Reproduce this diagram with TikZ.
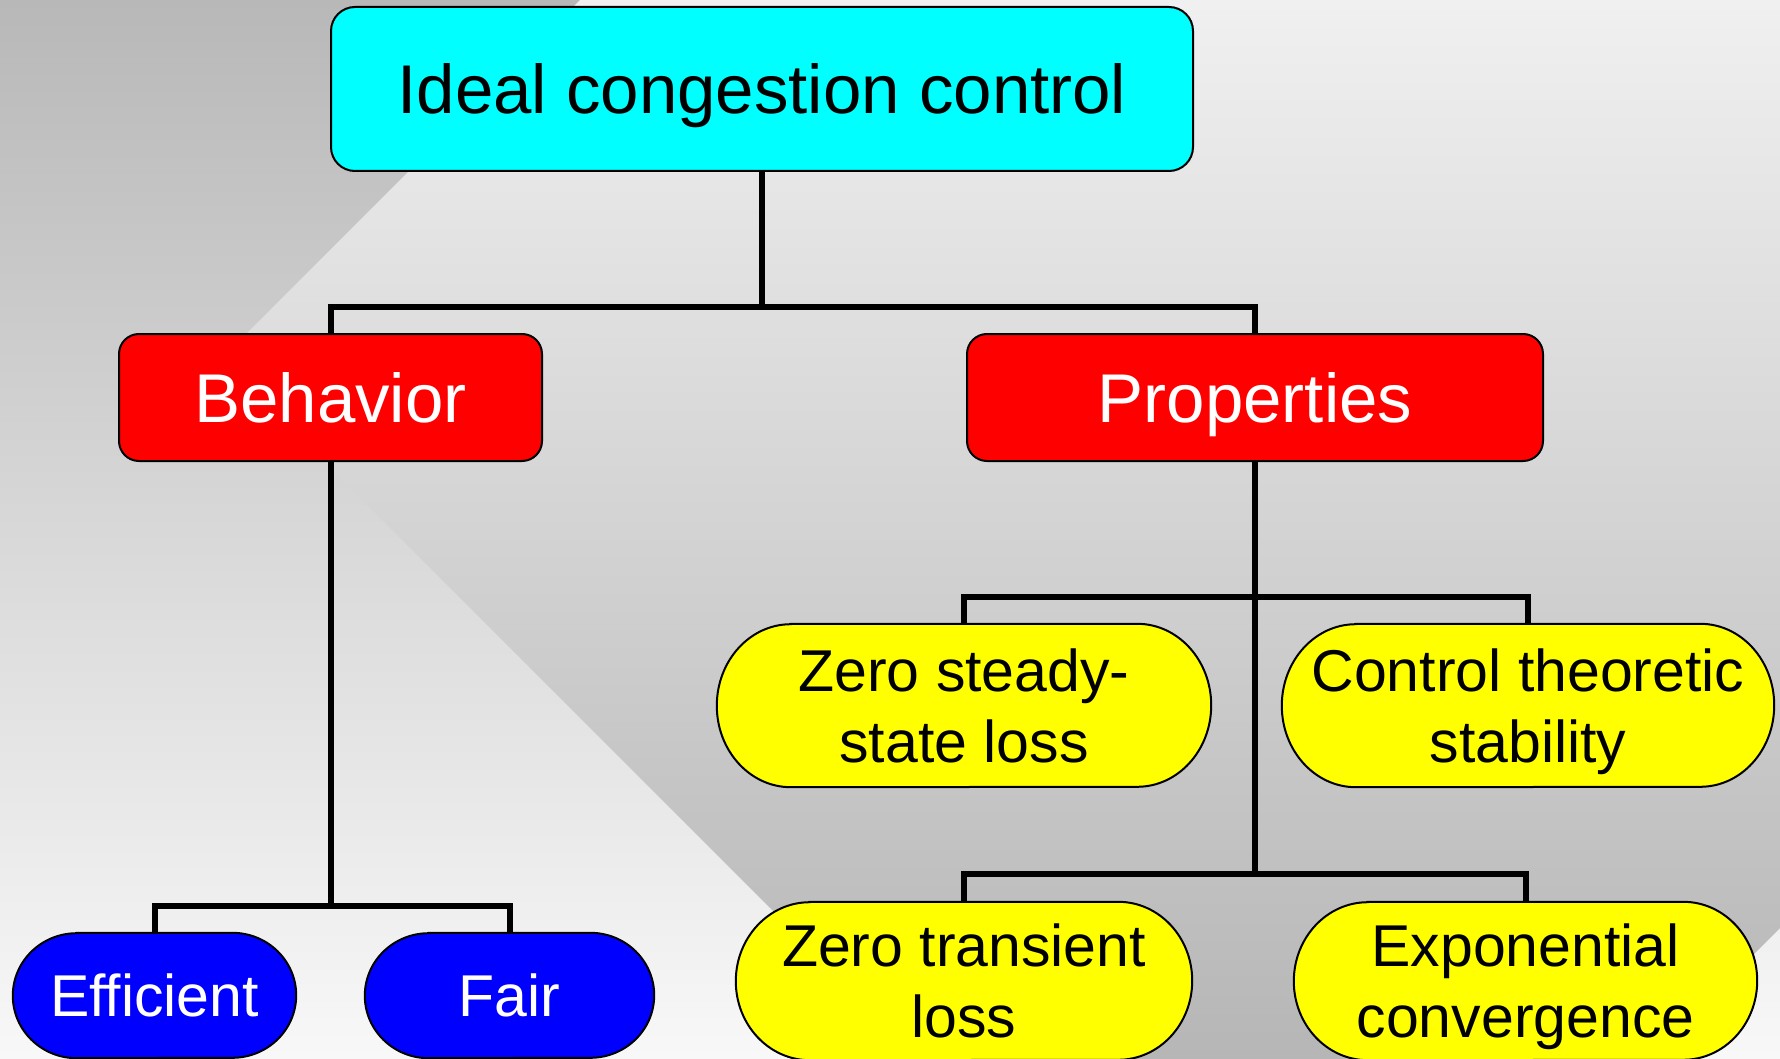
\documentclass[tikz,border=0pt]{standalone}
\usepackage{fontspec}
\setmainfont{Liberation Sans}
\pgfdeclarelayer{back}
\pgfdeclarelayer{pills}
\pgfsetlayers{back,pills,main}
\definecolor{bgdark}{HTML}{B8B8B8}
\definecolor{bglight}{HTML}{F8F8F8}
\definecolor{dmtop}{HTML}{F0F0F0}
\definecolor{dmbot}{HTML}{B6B6B6}
\definecolor{topcyan}{HTML}{00FFFF}
\definecolor{midred}{HTML}{FF0000}
\definecolor{leafblue}{HTML}{0000FF}
\definecolor{leafyellow}{HTML}{FFFF00}
\tikzset{
	headbox/.style={draw=black, line width=2pt, rounded corners=20pt, inner sep=0pt, text depth=0pt, font=\fontsize{69}{83}\selectfont},
	leaf/.style={inner sep=0pt, align=center, text depth=0pt, font=\fontsize{59}{71}\selectfont},
	conn/.style={line width=6pt},
	pilledge/.style={draw=black, line width=2pt}
}
\newcommand{\pillshape}[4]{%
	\begin{pgfonlayer}{pills}
		\draw[pilledge, fill=#2] ([xshift=#3]#1.north west) -- ([xshift=-#3]#1.north east)
			arc[start angle=90, end angle=-90, x radius=#3, y radius=#4]
			-- ([xshift=#3]#1.south west)
			arc[start angle=270, end angle=90, x radius=#3, y radius=#4] -- cycle;
	\end{pgfonlayer}}
\begin{document}
\begin{tikzpicture}[x=1pt, y=1pt, line join=miter]
	\def\W{1780} \def\H{1059}
	\useasboundingbox (0,0) rectangle (\W,-\H);
	\begin{pgfonlayer}{back}
		\shade[top color=bgdark, bottom color=bglight] (0,0) rectangle (\W,-\H);
		\begin{scope}
			\clip (580,0) -- (221,-359) -- (921,-\H) -- (1649,-\H) -- (\W,-928) -- (\W,0) -- cycle;
			\shade[top color=dmtop, bottom color=dmbot] (0,0) rectangle (\W,-\H);
		\end{scope}
	\end{pgfonlayer}
	% boxes
	\node[headbox, fill=topcyan, rounded corners=24pt, minimum width=862pt, minimum height=164pt] (ideal) at (762,-89) {Ideal congestion control};
	\node[headbox, fill=midred, text=white, minimum width=423pt, minimum height=127pt] (behav) at (330.5,-397.5) {Behavior};
	\node[headbox, fill=midred, text=white, minimum width=576pt, minimum height=127pt] (props) at (1255,-397.5) {Properties};
	% leaves
	\node[leaf, text=white, minimum width=283pt, minimum height=125pt] (eff) at (154.5,-995.5) {Efficient};
	\node[leaf, text=white, minimum width=289pt, minimum height=125pt] (fair) at (509.5,-995.5) {Fair};
	\node[leaf, minimum width=494pt, minimum height=163pt] (zss) at (964,-705.5) {Zero steady-\\state loss};
	\node[leaf, minimum width=492pt, minimum height=163pt] (cts) at (1528,-705.5) {Control theoretic\\stability};
	\node[leaf, minimum width=456pt, minimum height=158pt] (ztl) at (964,-981) {Zero transient\\loss};
	\node[leaf, minimum width=463pt, minimum height=158pt] (exc) at (1525.5,-981) {Exponential\\convergence};
	\pillshape{eff}{leafblue}{64pt}{62.5pt}
	\pillshape{fair}{leafblue}{64pt}{62.5pt}
	\pillshape{zss}{leafyellow}{74pt}{81.5pt}
	\pillshape{cts}{leafyellow}{74pt}{81.5pt}
	\pillshape{ztl}{leafyellow}{74pt}{79pt}
	\pillshape{exc}{leafyellow}{74pt}{79pt}
	% connectors
	\coordinate (j0) at (762,-307);
	\coordinate (j1) at (330.5,-906);
	\coordinate (j2) at (1255,-597);
	\coordinate (j3) at (1255,-874);
	\draw[conn] (ideal.south) -- (j0);
	\draw[conn] (behav.north) |- (j0) -| (props.north);
	\draw[conn] (behav.south) -- (j1);
	\draw[conn] (eff.north) |- (j1) -| (fair.north);
	\draw[conn] (props.south) -- (j3);
	\draw[conn] (zss.north) |- (j2) -| (cts.north);
	\draw[conn] (ztl.north) |- (j3) -| (exc.north);
\end{tikzpicture}
\end{document}
